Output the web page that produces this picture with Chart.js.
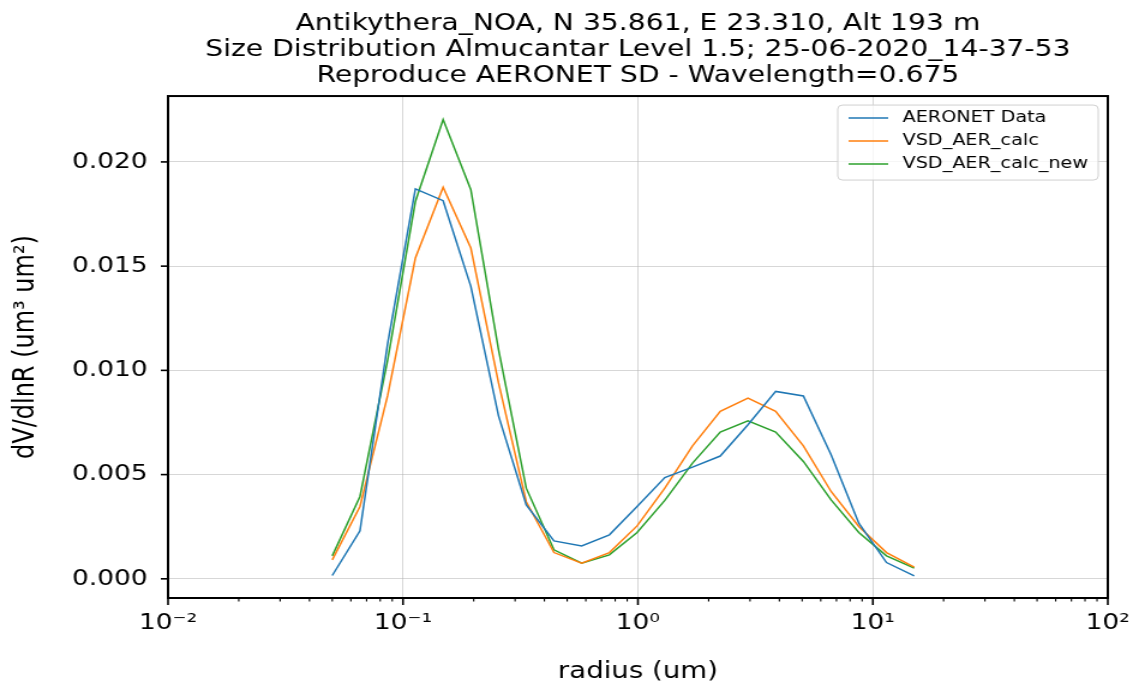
<!DOCTYPE html>
<html>
<head>
<meta charset="utf-8">
<title>Antikythera_NOA - Size Distribution</title>
<script src="https://cdn.jsdelivr.net/npm/chart.js@4.4.1/dist/chart.umd.min.js"></script>
<style>
  html, body { margin: 0; padding: 0; background: #fff; }
</style>
</head>
<body>
<!-- a figura original é esticada na horizontal: canvas de 949px mostrado em 1139px -->
<canvas id="grafico" width="949" height="684" style="display:block;width:1139px;height:684px"></canvas>
<script>
// raios (um) das 22 classes da inversão AERONET
const raios = [0.050000, 0.065604, 0.086077, 0.112939, 0.148184, 0.194429, 0.255105, 0.334716,
    0.439173, 0.576227, 0.756052, 0.991996, 1.301571, 1.707757, 2.240702, 2.939966,
    3.857452, 5.061260, 6.640745, 8.713145, 11.432287, 15.000000];

// dV/dlnR
const aeronetData = [0.00016, 0.00230, 0.01130, 0.01871, 0.01814, 0.01403, 0.00782, 0.00355,
    0.00182, 0.00158, 0.00211, 0.00347, 0.00486, 0.00536, 0.00589, 0.00739,
    0.00899, 0.00877, 0.00595, 0.00267, 0.00078, 0.00014];
const vsdAerCalc = [0.00091, 0.00347, 0.00880, 0.01539, 0.01878, 0.01587, 0.00940, 0.00370,
    0.00126, 0.00075, 0.00126, 0.00254, 0.00435, 0.00638, 0.00803, 0.00867,
    0.00803, 0.00638, 0.00419, 0.00251, 0.00126, 0.00056];
const vsdAerCalcNew = [0.00110, 0.00395, 0.01050, 0.01810, 0.02203, 0.01867, 0.01100, 0.00435,
    0.00139, 0.00075, 0.00115, 0.00222, 0.00376, 0.00555, 0.00704, 0.00758,
    0.00704, 0.00563, 0.00379, 0.00222, 0.00110, 0.00051];

const nomesSeries = ['AERONET Data', 'VSD_AER_calc', 'VSD_AER_calc_new'];
const coresSeries = ['#1f77b4', '#ff7f0e', '#2ca02c'];

const ticksX = [0.01, 0.1, 1, 10, 100];
const ticksY = [0.000, 0.005, 0.010, 0.015, 0.020];

const titulo = [
    'Antikythera_NOA, N 35.861, E 23.310, Alt 193 m',
    'Size Distribution Almucantar Level 1.5; 25-06-2020_14-37-53',
    'Reproduce AERONET SD - Wavelength=0.675'
];
const tituloX = 'radius (um)';
const tituloY = 'dV/dlnR (um³ um²)';

const sobrescrito = { '-': '⁻', '0': '⁰', '1': '¹', '2': '²', '3': '³' };

function rotuloPotencia(valor) {
    let expoente = String(Math.round(Math.log10(valor)));
    let sup = '';
    for (const c of expoente) sup += sobrescrito[c];
    return '10' + sup;
}

function montarSerie(valores) {
    return raios.map((r, i) => ({ x: r, y: valores[i] }));
}

// moldura preta + ticks (maiores e menores) como no matplotlib
const molduraEixos = {
    id: 'molduraEixos',
    afterDatasetsDraw(chart) {
        const { ctx, chartArea: a, scales: { x, y } } = chart;
        ctx.save();
        ctx.strokeStyle = '#000';
        for (let d = -2; d <= 2; d++) {
            for (let m = 1; m <= 9; m++) {
                if (d === 2 && m > 1) break;
                const px = x.getPixelForValue(m * Math.pow(10, d));
                const maior = m === 1;
                ctx.lineWidth = maior ? 1.6 : 1.1;
                ctx.beginPath();
                ctx.moveTo(px, a.bottom);
                ctx.lineTo(px, a.bottom + (maior ? 7 : 3.5));
                ctx.stroke();
            }
        }
        ctx.lineWidth = 1.6;
        ticksY.forEach(v => {
            const py = y.getPixelForValue(v);
            ctx.beginPath();
            ctx.moveTo(a.left - 6, py);
            ctx.lineTo(a.left, py);
            ctx.stroke();
        });
        ctx.lineWidth = 2;
        ctx.strokeRect(a.left, a.top, a.right - a.left, a.bottom - a.top);
        ctx.restore();
    }
};

// legenda dentro da área do gráfico, canto superior direito
const legendaInterna = {
    id: 'legendaInterna',
    afterDraw(chart) {
        const { ctx, chartArea: a } = chart;
        const largura = 217, altura = 75, raio = 4;
        const esq = a.right - 8 - largura;
        const topo = a.top + 9;
        ctx.save();
        ctx.beginPath();
        ctx.moveTo(esq + raio, topo);
        ctx.arcTo(esq + largura, topo, esq + largura, topo + altura, raio);
        ctx.arcTo(esq + largura, topo + altura, esq, topo + altura, raio);
        ctx.arcTo(esq, topo + altura, esq, topo, raio);
        ctx.arcTo(esq, topo, esq + largura, topo, raio);
        ctx.closePath();
        ctx.fillStyle = 'rgba(255,255,255,0.8)';
        ctx.fill();
        ctx.strokeStyle = '#d0d0d0';
        ctx.lineWidth = 1;
        ctx.stroke();

        ctx.font = '16px "DejaVu Sans"';
        ctx.textBaseline = 'middle';
        ctx.textAlign = 'left';
        chart.data.datasets.forEach((ds, i) => {
            const yLinha = topo + 13 + i * 23;
            ctx.strokeStyle = ds.borderColor;
            ctx.lineWidth = 1.4;
            ctx.beginPath();
            ctx.moveTo(esq + 9, yLinha);
            ctx.lineTo(esq + 42, yLinha);
            ctx.stroke();
            ctx.fillStyle = '#000';
            ctx.fillText(ds.label, esq + 54, yLinha);
        });
        ctx.restore();
    }
};

Chart.defaults.font.family = '"DejaVu Sans", sans-serif';
Chart.defaults.color = '#000';

const dados = {
    datasets: [aeronetData, vsdAerCalc, vsdAerCalcNew].map((serie, i) => ({
        label: nomesSeries[i],
        data: montarSerie(serie),
        borderColor: coresSeries[i],
        backgroundColor: coresSeries[i],
        borderWidth: 1.5,
        pointRadius: 0,
        tension: 0,
        fill: false
    }))
};

const corGrade = 'rgba(176,176,176,0.5)';

const config = {
    type: 'line',
    data: dados,
    options: {
        responsive: false,
        animation: false,
        devicePixelRatio: 1,
        events: [],
        layout: { padding: { left: 0, right: 26, top: 0, bottom: 0 } },
        plugins: {
            legend: { display: false },
            tooltip: { enabled: false },
            title: {
                display: true,
                text: titulo,
                fullSize: false,
                color: '#000',
                font: { size: 23.5, weight: 'normal', lineHeight: 1.1 },
                padding: { top: 11, bottom: 7.5 }
            }
        },
        scales: {
            x: {
                type: 'logarithmic',
                min: 0.01,
                max: 100,
                border: { display: false },
                grid: { color: corGrade, lineWidth: 1, drawTicks: false },
                afterBuildTicks: (scale) => { scale.ticks = ticksX.map(v => ({ value: v })); },
                afterFit: (scale) => {
                    scale.height = 86;
                    // o rótulo 10² pode sair da área, sem empurrar o gráfico
                    scale.paddingLeft = 0;
                    scale.paddingRight = 0;
                },
                ticks: {
                    autoSkip: false,
                    maxRotation: 0,
                    padding: 12,
                    font: { size: 22 },
                    callback: (valor) => rotuloPotencia(valor)
                },
                title: {
                    display: true,
                    text: tituloX,
                    font: { size: 23, lineHeight: 1.04 },
                    padding: { top: 0, bottom: 0 }
                }
            },
            y: {
                type: 'linear',
                min: -0.00092,
                max: 0.02316,
                border: { display: false },
                grid: { color: corGrade, lineWidth: 1, drawTicks: false },
                afterBuildTicks: (scale) => { scale.ticks = ticksY.map(v => ({ value: v })); },
                afterFit: (scale) => { scale.width = 140; },
                ticks: {
                    padding: 17,
                    font: { size: 22 },
                    callback: (valor) => valor.toFixed(3)
                },
                title: {
                    display: true,
                    text: tituloY,
                    font: { size: 24, lineHeight: 1 },
                    padding: { top: 10, bottom: 0 }
                }
            }
        }
    },
    plugins: [molduraEixos, legendaInterna]
};

var ctx = document.getElementById('grafico').getContext('2d');
let meuGrafico = new Chart(ctx, config);
</script>
</body>
</html>
